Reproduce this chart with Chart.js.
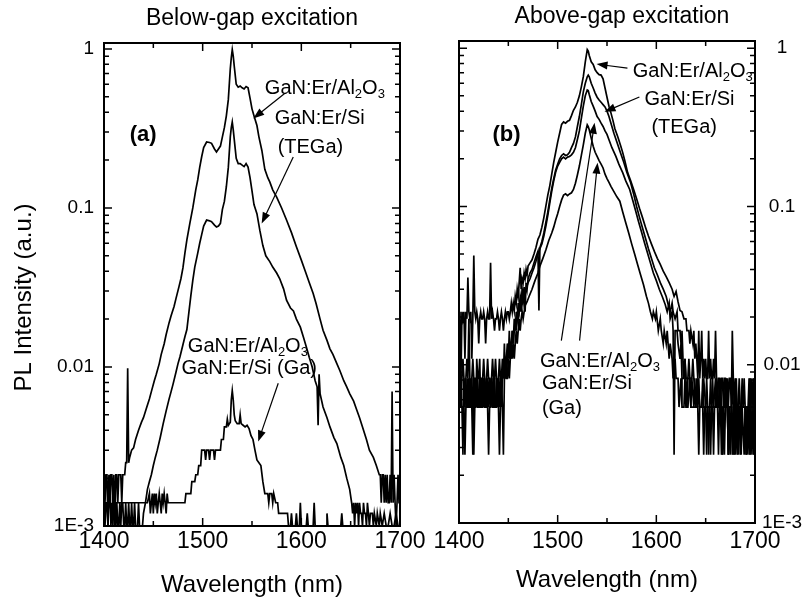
<!DOCTYPE html>
<html>
<head>
<meta charset="utf-8">
<title>PL spectra GaN:Er</title>
<script src="https://cdn.jsdelivr.net/npm/chart.js@4.4.1/dist/chart.umd.min.js"></script>
<style>
  body { margin: 0; background: #fff; }
  #wrap { position: relative; width: 809px; height: 601px; }
  canvas { position: absolute; left: 0; top: 0; }
</style>
</head>
<body>
<div id="wrap">
  <canvas id="below" width="809" height="601"></canvas>
  <canvas id="above" width="809" height="601"></canvas>
</div>
<script>
// Osi
const wlTicks = [1400, 1500, 1600, 1700];
const wlMinorTicks = [1450, 1550, 1650];
const plDecades = [0.001, 0.01, 0.1, 1];
const plDecadeLabels = ['1E-3', '0.01', '0.1', '1'];

// (a) Below-gap excitation: [valna duljina nm, PL intenzitet a.u.]
const belowAl2O3TEGa = [
  [1400,0.0021],[1401,0.0014],[1402,0.0021],[1403,0.0021],[1404,0.001],[1405,0.0021],[1406,0.0014],[1407,0.0021],
  [1408,0.0021],[1409,0.0014],[1410,0.0021],[1411,0.001],[1412,0.0021],[1413,0.0021],[1414,0.0014],[1415,0.0021],
  [1416,0.0021],[1417,0.0021],[1418,0.0014],[1419,0.0021],[1420,0.0021],[1421,0.0021],[1422,0.0025],[1423,0.0025],
  [1424,0.0098],[1425,0.0025],[1426,0.0027],[1428,0.003],[1430,0.0031],[1432,0.0035],[1435,0.004],[1438,0.0045],
  [1440,0.0048],[1443,0.0055],[1446,0.0063],[1448,0.007],[1451,0.0082],[1453,0.009],[1456,0.0105],[1458,0.012],
  [1461,0.014],[1463,0.016],[1466,0.019],[1468,0.021],[1471,0.024],[1473,0.027],[1476,0.032],[1478,0.036],
  [1480,0.042],[1482,0.052],[1484,0.063],[1487,0.08],[1490,0.1],[1493,0.13],[1495,0.15],[1497,0.18],
  [1499,0.21],[1501,0.24],[1504,0.26],[1507,0.258],[1509,0.255],[1512,0.235],[1514,0.225],[1516,0.235],
  [1518,0.245],[1520,0.28],[1522,0.32],[1524,0.38],[1526,0.48],[1528,0.75],[1529,0.88],[1530,0.99],
  [1531,0.9],[1532,0.78],[1534,0.6],[1536,0.575],[1538,0.585],[1540,0.57],[1542,0.56],[1544,0.58],
  [1546,0.57],[1548,0.49],[1550,0.42],[1552,0.38],[1555,0.33],[1557,0.28],[1560,0.23],[1563,0.175],
  [1566,0.155],[1568,0.146],[1571,0.13],[1575,0.117],[1580,0.1],[1585,0.084],[1590,0.07],[1595,0.057],
  [1600,0.047],[1604,0.04],[1608,0.034],[1612,0.029],[1615,0.025],[1619,0.02],[1622,0.017],[1626,0.0147],
  [1629,0.013],[1632,0.012],[1636,0.0105],[1639,0.0095],[1643,0.0082],[1646,0.0075],[1649,0.0068],[1653,0.0061],
  [1656,0.0054],[1659,0.0048],[1662,0.0042],[1666,0.0035],[1669,0.003],[1673,0.0027],[1676,0.0024],[1679,0.0021],
  [1680,0.0021],[1681,0.0014],[1682,0.0021],[1683,0.0021],[1684,0.0014],[1685,0.0021],[1686,0.0014],[1687,0.0021],
  [1688,0.0014],[1689,0.0014],[1690,0.0021],[1691,0.0014],[1692,0.007],[1693,0.0014],[1694,0.0021],[1695,0.0014],
  [1696,0.001],[1697,0.0014],[1698,0.0021],[1699,0.0014],[1700,0.0014]
];
const belowSiTEGa = [
  [1400,0.0014],[1401,0.001],[1402,0.0014],[1403,0.0014],[1404,0.001],[1405,0.0014],[1406,0.0021],[1407,0.001],
  [1408,0.0014],[1409,0.001],[1410,0.0014],[1411,0.0014],[1412,0.001],[1413,0.0014],[1414,0.001],[1415,0.001],
  [1416,0.0014],[1417,0.001],[1418,0.0014],[1419,0.0014],[1420,0.001],[1421,0.001],[1422,0.0014],[1423,0.001],
  [1424,0.001],[1425,0.0014],[1426,0.001],[1427,0.001],[1428,0.0014],[1429,0.001],[1430,0.001],[1431,0.0014],
  [1432,0.001],[1433,0.001],[1434,0.001],[1435,0.0014],[1436,0.001],[1437,0.001],[1438,0.001],[1439,0.001],
  [1440,0.0012],[1442,0.0014],[1444,0.0017],[1446,0.0019],[1448,0.0021],[1450,0.0024],[1452,0.0027],[1454,0.003],
  [1457,0.0036],[1460,0.0044],[1463,0.0053],[1466,0.0063],[1468,0.007],[1470,0.0078],[1473,0.0093],[1475,0.0105],
  [1477,0.0116],[1480,0.0138],[1482,0.0155],[1484,0.0172],[1486,0.022],[1488,0.028],[1490,0.035],[1492,0.0425],
  [1495,0.052],[1497,0.06],[1499,0.068],[1501,0.077],[1504,0.084],[1507,0.083],[1509,0.082],[1512,0.078],
  [1514,0.076],[1516,0.077],[1518,0.08],[1520,0.098],[1522,0.11],[1524,0.136],[1526,0.18],[1528,0.28],
  [1529,0.32],[1530,0.347],[1531,0.31],[1532,0.27],[1534,0.205],[1536,0.19],[1538,0.19],[1540,0.186],
  [1542,0.182],[1544,0.19],[1546,0.181],[1548,0.155],[1550,0.128],[1552,0.105],[1555,0.092],[1558,0.072],
  [1561,0.058],[1564,0.05],[1568,0.046],[1571,0.0425],[1575,0.039],[1578,0.036],[1582,0.031],[1585,0.0263],
  [1589,0.0235],[1592,0.0225],[1595,0.02],[1599,0.0178],[1602,0.0155],[1605,0.0134],[1608,0.0115],[1611,0.01],
  [1614,0.0082],[1616,0.0075],[1617,0.0043],[1618,0.009],[1619,0.0068],[1622,0.0056],[1626,0.0048],[1629,0.0042],
  [1633,0.0036],[1636,0.0033],[1640,0.0027],[1643,0.0024],[1646,0.002],[1649,0.0017],[1651,0.0014],[1652,0.0012],
  [1653,0.0014],[1654,0.001],[1655,0.0014],[1656,0.0012],[1657,0.0014],[1658,0.001],[1659,0.0014],[1660,0.0012],
  [1661,0.0012],[1662,0.001],[1663,0.0014],[1664,0.0012],[1665,0.0012],[1666,0.001],[1667,0.0014],[1668,0.0012],
  [1669,0.001],[1670,0.0012],[1672,0.0012],[1673,0.001],[1674,0.0012],[1676,0.001],[1677,0.0012],[1679,0.001],
  [1680,0.0012],[1682,0.001],[1684,0.0012],[1686,0.001],[1688,0.001],[1690,0.0012],[1692,0.001],[1694,0.001],
  [1696,0.0012],[1698,0.001],[1700,0.001]
];
const belowGa = [
  [1400,0.0014],[1405,0.0014],[1408,0.0012],[1409,0.0014],[1415,0.0014],[1420,0.0014],[1425,0.0014],[1430,0.0014],
  [1435,0.0014],[1440,0.0014],[1444,0.0014],[1446,0.0016],[1447,0.0012],[1448,0.0014],[1449,0.0016],[1450,0.0012],
  [1451,0.0016],[1452,0.0014],[1453,0.0016],[1454,0.0012],[1455,0.0014],[1456,0.0016],[1457,0.0014],[1458,0.0012],
  [1459,0.0016],[1460,0.0014],[1461,0.0016],[1462,0.0014],[1463,0.0012],[1464,0.0016],[1465,0.0014],[1470,0.0014],
  [1475,0.0014],[1482,0.0014],[1483,0.0016],[1488,0.0016],[1489,0.0019],[1492,0.0019],[1493,0.0021],[1495,0.0021],
  [1496,0.0024],[1498,0.0024],[1499,0.003],[1502,0.003],[1503,0.0026],[1504,0.003],[1506,0.003],[1507,0.0026],
  [1508,0.003],[1511,0.003],[1512,0.0026],[1513,0.003],[1518,0.003],[1519,0.0035],[1521,0.0035],[1522,0.0042],
  [1524,0.0042],[1525,0.0047],[1526,0.0043],[1528,0.0045],[1529,0.0062],[1530,0.0071],[1531,0.0062],[1532,0.005],
  [1533,0.0046],[1535,0.0044],[1537,0.0044],[1538,0.005],[1539,0.0044],[1541,0.0043],[1543,0.0042],[1545,0.0043],
  [1547,0.0041],[1549,0.0037],[1551,0.0035],[1553,0.003],[1555,0.0026],[1557,0.0025],[1559,0.0024],[1561,0.0019],
  [1563,0.0016],[1566,0.0016],[1567,0.0014],[1568,0.0016],[1570,0.0016],[1571,0.0014],[1572,0.0016],[1574,0.0014],
  [1576,0.0014],[1577,0.0012],[1584,0.0012],[1586,0.0012],[1587,0.001],[1589,0.001],[1590,0.0012],[1591,0.001],
  [1594,0.001],[1595,0.0012],[1596,0.001],[1598,0.001],[1599,0.0014],[1600,0.001],[1605,0.001],[1606,0.0012],
  [1607,0.001],[1612,0.001],[1613,0.0014],[1614,0.001],[1625,0.001],[1626,0.0012],[1627,0.001],[1640,0.001],
  [1641,0.0012],[1642,0.001],[1700,0.001]
];

// (b) Above-gap excitation
const aboveAl2O3TEGa = [
  [1400,0.0195],[1401,0.0216],[1402,0.0082],[1403,0.0216],[1404,0.0195],[1405,0.0216],[1406,0.0109],[1407,0.0216],
  [1408,0.0195],[1409,0.0356],[1410,0.0216],[1411,0.0195],[1412,0.0216],[1413,0.0109],[1414,0.0195],[1415,0.049],
  [1416,0.0216],[1417,0.0195],[1418,0.0216],[1419,0.0195],[1420,0.0136],[1421,0.0195],[1422,0.0216],[1423,0.0195],
  [1424,0.0195],[1425,0.0216],[1426,0.0195],[1427,0.0136],[1428,0.0195],[1429,0.0216],[1430,0.0195],[1431,0.0195],
  [1432,0.044],[1433,0.0195],[1434,0.0216],[1435,0.0195],[1436,0.0164],[1437,0.0195],[1438,0.0195],[1439,0.0216],
  [1440,0.0195],[1441,0.0164],[1442,0.0195],[1443,0.0216],[1444,0.0195],[1445,0.0164],[1446,0.0195],[1447,0.0216],
  [1448,0.0195],[1449,0.0216],[1450,0.0216],[1451,0.0195],[1452,0.0216],[1453,0.0245],[1454,0.0216],[1455,0.0245],
  [1456,0.022],[1457,0.027],[1458,0.0245],[1459,0.03],[1460,0.027],[1461,0.033],[1462,0.041],[1463,0.03],
  [1464,0.035],[1465,0.033],[1466,0.038],[1467,0.035],[1468,0.04],[1469,0.037],[1470,0.042],[1472,0.044],
  [1474,0.046],[1476,0.05],[1478,0.055],[1480,0.062],[1482,0.066],[1484,0.074],[1486,0.085],[1488,0.1],
  [1490,0.118],[1492,0.135],[1494,0.16],[1496,0.19],[1498,0.22],[1500,0.255],[1502,0.29],[1504,0.33],
  [1506,0.342],[1508,0.336],[1510,0.345],[1512,0.35],[1514,0.375],[1516,0.405],[1518,0.425],[1520,0.455],
  [1522,0.5],[1524,0.57],[1526,0.66],[1528,0.82],[1530,0.98],[1531,0.96],[1532,0.9],[1534,0.82],
  [1536,0.79],[1538,0.73],[1540,0.7],[1542,0.68],[1544,0.676],[1546,0.64],[1548,0.56],[1550,0.49],
  [1552,0.43],[1554,0.39],[1556,0.35],[1558,0.31],[1561,0.275],[1564,0.24],[1566,0.218],[1568,0.195],
  [1571,0.163],[1574,0.145],[1577,0.128],[1580,0.112],[1583,0.097],[1586,0.085],[1589,0.074],[1592,0.065],
  [1595,0.058],[1598,0.052],[1601,0.047],[1604,0.043],[1607,0.039],[1610,0.036],[1613,0.033],[1616,0.03],
  [1618,0.027],[1620,0.029],[1622,0.025],[1624,0.022],[1626,0.0216],[1628,0.0195],[1630,0.0195],[1631,0.0164],
  [1633,0.0164],[1634,0.0136],[1635,0.0164],[1637,0.0136],[1638,0.0164],[1639,0.0109],[1640,0.0136],[1641,0.0109],
  [1642,0.0082],[1643,0.0164],[1644,0.0082],[1645,0.0109],[1646,0.0164],[1647,0.0082],[1648,0.0109],[1649,0.0082],
  [1650,0.0109],[1651,0.0082],[1652,0.0082],[1653,0.0164],[1654,0.0082],[1655,0.0109],[1656,0.0082],[1657,0.0082],
  [1658,0.0109],[1659,0.0082],[1660,0.0164],[1661,0.0082],[1662,0.0054],[1663,0.0082],[1664,0.0082],[1665,0.0054],
  [1666,0.0082],[1667,0.0082],[1668,0.0054],[1669,0.0082],[1670,0.0082],[1671,0.0054],[1672,0.0082],[1673,0.0054],
  [1674,0.0082],[1675,0.0082],[1676,0.0054],[1677,0.0164],[1678,0.0082],[1679,0.0054],[1680,0.0082],[1681,0.0054],
  [1683,0.0054],[1684,0.0082],[1685,0.0054],[1688,0.0054],[1689,0.0082],[1690,0.0054],[1693,0.0054],[1694,0.0082],
  [1695,0.0054],[1696,0.0082],[1697,0.0054],[1698,0.0082],[1699,0.0054],[1700,0.0082]
];
const aboveSiTEGa = [
  [1400,0.0082],[1401,0.0109],[1402,0.0054],[1403,0.0082],[1404,0.0109],[1405,0.0082],[1406,0.0054],[1407,0.0082],
  [1408,0.0109],[1409,0.0082],[1410,0.0195],[1411,0.0082],[1412,0.0054],[1413,0.0082],[1414,0.0109],[1415,0.0082],
  [1416,0.0082],[1417,0.0054],[1418,0.0109],[1419,0.0082],[1420,0.0082],[1421,0.0109],[1422,0.0054],[1423,0.0082],
  [1424,0.0082],[1425,0.0109],[1426,0.0082],[1427,0.0054],[1428,0.0082],[1429,0.0109],[1430,0.0082],[1431,0.0082],
  [1432,0.0054],[1433,0.0082],[1434,0.0109],[1435,0.0082],[1436,0.0082],[1437,0.0109],[1438,0.0082],[1439,0.0054],
  [1440,0.0082],[1441,0.0109],[1442,0.0082],[1443,0.0082],[1444,0.0109],[1445,0.0082],[1446,0.0136],[1447,0.0082],
  [1448,0.0109],[1449,0.0136],[1450,0.0109],[1451,0.0164],[1452,0.0109],[1453,0.0136],[1454,0.0164],[1455,0.0136],
  [1456,0.0195],[1457,0.0164],[1458,0.0216],[1459,0.0195],[1460,0.0245],[1461,0.022],[1462,0.027],[1463,0.0245],
  [1464,0.03],[1465,0.027],[1466,0.031],[1467,0.0216],[1468,0.033],[1469,0.03],[1470,0.035],[1472,0.038],
  [1474,0.04],[1476,0.044],[1478,0.048],[1480,0.052],[1481,0.022],[1482,0.055],[1484,0.06],[1486,0.068],
  [1488,0.079],[1490,0.092],[1492,0.11],[1494,0.13],[1496,0.15],[1498,0.17],[1500,0.185],[1502,0.2],
  [1504,0.21],[1506,0.215],[1508,0.21],[1510,0.212],[1512,0.22],[1514,0.235],[1516,0.25],[1518,0.275],
  [1520,0.32],[1522,0.37],[1524,0.44],[1526,0.53],[1528,0.6],[1530,0.66],[1531,0.676],[1532,0.66],
  [1534,0.6],[1536,0.56],[1538,0.52],[1540,0.49],[1542,0.47],[1544,0.455],[1546,0.44],[1548,0.425],
  [1550,0.4],[1552,0.37],[1554,0.336],[1557,0.29],[1560,0.255],[1564,0.215],[1567,0.19],[1570,0.165],
  [1574,0.141],[1577,0.12],[1580,0.1],[1583,0.085],[1586,0.073],[1589,0.063],[1592,0.054],[1595,0.047],
  [1598,0.041],[1601,0.037],[1604,0.033],[1607,0.03],[1610,0.027],[1612,0.024],[1614,0.0216],[1616,0.0245],
  [1617,0.0216],[1619,0.0195],[1621,0.0216],[1622,0.0164],[1624,0.0164],[1625,0.0136],[1626,0.0164],[1627,0.0109],
  [1628,0.0082],[1629,0.0109],[1630,0.0082],[1632,0.0082],[1633,0.0109],[1634,0.0082],[1636,0.0082],[1637,0.0109],
  [1638,0.0082],[1640,0.0054],[1641,0.0082],[1642,0.0054],[1643,0.0082],[1644,0.0054],[1646,0.0054],[1647,0.0082],
  [1648,0.0054],[1650,0.0054],[1651,0.0082],[1652,0.0054],[1654,0.0054],[1655,0.0027],[1656,0.0054],[1657,0.0082],
  [1658,0.0054],[1660,0.0054],[1661,0.0082],[1662,0.0054],[1664,0.0054],[1665,0.0082],[1666,0.0054],[1667,0.0027],
  [1668,0.0054],[1670,0.0054],[1671,0.0082],[1672,0.0054],[1673,0.0027],[1674,0.0054],[1676,0.0054],[1677,0.0082],
  [1678,0.0054],[1679,0.0027],[1680,0.0054],[1682,0.0054],[1683,0.0027],[1684,0.0054],[1686,0.0054],[1687,0.0082],
  [1688,0.0054],[1690,0.0054],[1691,0.0027],[1692,0.0054],[1694,0.0054],[1695,0.0082],[1696,0.0054],[1698,0.0054],
  [1699,0.0082],[1700,0.0054]
];
const aboveAl2O3Ga = [
  [1400,0.0054],[1401,0.0082],[1402,0.0054],[1403,0.0054],[1404,0.0027],[1405,0.0082],[1406,0.0054],[1407,0.0082],
  [1408,0.0054],[1409,0.0054],[1410,0.0082],[1411,0.0054],[1412,0.0082],[1413,0.0054],[1414,0.0027],[1415,0.0082],
  [1416,0.0054],[1417,0.0082],[1418,0.0054],[1419,0.0082],[1420,0.0054],[1421,0.0054],[1422,0.0082],[1423,0.0054],
  [1424,0.0082],[1425,0.0054],[1426,0.0082],[1427,0.0054],[1428,0.0054],[1429,0.0082],[1430,0.0054],[1431,0.0082],
  [1432,0.0054],[1433,0.0082],[1434,0.0054],[1435,0.0082],[1436,0.0054],[1437,0.0054],[1438,0.0082],[1439,0.0054],
  [1440,0.0082],[1441,0.0054],[1442,0.0082],[1443,0.0054],[1444,0.0082],[1445,0.0109],[1446,0.0082],[1447,0.0109],
  [1448,0.0082],[1449,0.0109],[1450,0.0136],[1451,0.0109],[1452,0.0136],[1453,0.0109],[1454,0.0164],[1455,0.0136],
  [1456,0.0164],[1457,0.0195],[1458,0.0164],[1459,0.0216],[1460,0.0195],[1461,0.0216],[1462,0.0245],[1463,0.0216],
  [1464,0.027],[1465,0.0245],[1466,0.028],[1468,0.03],[1470,0.033],[1472,0.035],[1474,0.038],[1476,0.041],
  [1478,0.045],[1480,0.05],[1482,0.054],[1484,0.058],[1486,0.065],[1488,0.075],[1490,0.088],[1492,0.105],
  [1494,0.125],[1496,0.145],[1498,0.165],[1500,0.18],[1502,0.19],[1504,0.2],[1506,0.205],[1508,0.2],
  [1510,0.205],[1512,0.207],[1514,0.212],[1516,0.22],[1518,0.235],[1520,0.265],[1522,0.3],[1524,0.36],
  [1526,0.43],[1528,0.5],[1530,0.544],[1531,0.54],[1532,0.51],[1534,0.46],[1536,0.43],[1538,0.4],
  [1540,0.37],[1542,0.355],[1544,0.336],[1546,0.32],[1548,0.3],[1550,0.285],[1552,0.264],[1555,0.235],
  [1559,0.207],[1562,0.185],[1566,0.163],[1569,0.145],[1573,0.128],[1576,0.11],[1579,0.094],[1582,0.08],
  [1585,0.069],[1588,0.059],[1591,0.051],[1594,0.044],[1597,0.038],[1600,0.034],[1603,0.03],[1606,0.027],
  [1609,0.024],[1611,0.0216],[1613,0.0245],[1614,0.0195],[1616,0.0216],[1617,0.0164],[1618,0.0027],[1619,0.0164],
  [1621,0.0164],[1622,0.0136],[1624,0.0109],[1625,0.0136],[1626,0.0082],[1628,0.0082],[1629,0.0109],[1630,0.0082],
  [1631,0.0054],[1632,0.0082],[1634,0.0082],[1635,0.0054],[1636,0.0082],[1638,0.0054],[1639,0.0082],[1640,0.0054],
  [1642,0.0082],[1644,0.0054],[1646,0.0054],[1648,0.0082],[1650,0.0054],[1651,0.0027],[1652,0.0054],[1654,0.0054],
  [1655,0.0082],[1656,0.0054],[1658,0.0054],[1660,0.0082],[1661,0.0054],[1663,0.0054],[1664,0.0082],[1665,0.0054],
  [1666,0.0027],[1667,0.0054],[1669,0.0054],[1670,0.0082],[1671,0.0054],[1672,0.0054],[1673,0.0027],[1674,0.0054],
  [1676,0.0054],[1677,0.0027],[1678,0.0054],[1680,0.0054],[1681,0.0082],[1682,0.0054],[1684,0.0054],[1685,0.0027],
  [1686,0.0054],[1688,0.0054],[1690,0.0054],[1691,0.0027],[1692,0.0054],[1694,0.0054],[1695,0.0027],[1696,0.0054],
  [1698,0.0054],[1699,0.0027],[1700,0.0054]
];
const aboveSiGa = [
  [1400,0.0054],[1401,0.0054],[1402,0.0082],[1403,0.0054],[1404,0.0054],[1405,0.0054],[1406,0.0027],[1407,0.0054],
  [1408,0.0054],[1409,0.0082],[1410,0.0054],[1411,0.0054],[1412,0.0054],[1413,0.0082],[1414,0.0054],[1415,0.0027],
  [1416,0.0054],[1417,0.0054],[1418,0.0082],[1419,0.0054],[1420,0.0054],[1421,0.0082],[1422,0.0054],[1423,0.0054],
  [1424,0.0054],[1425,0.0082],[1426,0.0054],[1427,0.0054],[1428,0.0082],[1429,0.0054],[1430,0.0027],[1431,0.0054],
  [1432,0.0054],[1433,0.0082],[1434,0.0054],[1435,0.0054],[1436,0.0082],[1437,0.0054],[1438,0.0054],[1439,0.0082],
  [1440,0.0054],[1441,0.0027],[1442,0.0054],[1443,0.0082],[1444,0.0054],[1445,0.0027],[1446,0.0082],[1447,0.0109],
  [1448,0.0082],[1449,0.0082],[1450,0.0109],[1451,0.0082],[1452,0.0109],[1453,0.0136],[1454,0.0109],[1455,0.0136],
  [1456,0.0109],[1457,0.0136],[1458,0.0164],[1459,0.0136],[1460,0.0164],[1461,0.0195],[1462,0.0164],[1463,0.0195],
  [1464,0.0216],[1465,0.0195],[1466,0.0216],[1467,0.0236],[1469,0.025],[1471,0.027],[1474,0.03],[1477,0.034],
  [1480,0.038],[1482,0.042],[1485,0.047],[1488,0.053],[1491,0.061],[1494,0.068],[1496,0.074],[1498,0.082],
  [1500,0.09],[1502,0.1],[1504,0.11],[1506,0.118],[1508,0.12],[1510,0.117],[1512,0.12],[1514,0.122],
  [1516,0.128],[1518,0.14],[1520,0.158],[1522,0.18],[1524,0.21],[1526,0.245],[1528,0.29],[1530,0.328],
  [1531,0.32],[1532,0.305],[1534,0.27],[1536,0.24],[1538,0.22],[1540,0.207],[1542,0.195],[1544,0.185],
  [1546,0.175],[1548,0.16],[1550,0.15],[1552,0.142],[1554,0.134],[1557,0.124],[1560,0.115],[1563,0.108],
  [1566,0.092],[1569,0.079],[1572,0.068],[1575,0.058],[1578,0.05],[1581,0.043],[1584,0.037],[1587,0.032],
  [1590,0.027],[1592,0.0245],[1594,0.0216],[1596,0.0195],[1597,0.0216],[1599,0.0195],[1600,0.0216],[1602,0.0164],
  [1604,0.0195],[1605,0.0164],[1607,0.0136],[1608,0.0164],[1610,0.0136],[1611,0.0164],[1613,0.0109],[1614,0.0136],
  [1616,0.0109],[1617,0.0082],[1619,0.0109],[1620,0.0082],[1622,0.0082],[1623,0.0054],[1625,0.0082],[1626,0.0054],
  [1628,0.0054],[1629,0.0082],[1630,0.0054],[1632,0.0054],[1634,0.0082],[1635,0.0054],[1637,0.0054],[1640,0.0054],
  [1642,0.0054],[1643,0.0027],[1644,0.0054],[1647,0.0054],[1648,0.0027],[1649,0.0054],[1652,0.0054],[1653,0.0027],
  [1654,0.0054],[1657,0.0054],[1658,0.0027],[1659,0.0054],[1662,0.0054],[1663,0.0027],[1664,0.0054],[1666,0.0054],
  [1667,0.0027],[1668,0.0054],[1669,0.0027],[1670,0.0054],[1672,0.0054],[1673,0.0027],[1674,0.0054],[1675,0.0027],
  [1676,0.0054],[1678,0.0027],[1679,0.0054],[1680,0.0027],[1681,0.0054],[1682,0.0027],[1683,0.0054],[1685,0.0054],
  [1686,0.0027],[1687,0.0054],[1689,0.0027],[1690,0.0054],[1692,0.0027],[1693,0.0054],[1694,0.0027],[1695,0.0054],
  [1696,0.0027],[1697,0.0054],[1698,0.0027],[1699,0.0054],[1700,0.0027]
];

// Natpisi i strelice (u koordinatama podataka)
const notesBelow = [
  { text: '(a)', x: 1426, y: 0.286, bold: true },
  { text: 'GaN:Er/Al_2O_3', x: 1563, y: 0.566 },
  { text: 'GaN:Er/Si', x: 1573, y: 0.367 },
  { text: '(TEGa)', x: 1576, y: 0.241 },
  { text: 'GaN:Er/Al_2O_3', x: 1485, y: 0.0134 },
  { text: 'GaN:Er/Si (Ga)', x: 1478.5, y: 0.0098 }
];
const arrowsBelow = [
  [1583.4, 0.526, 1551.3, 0.365],
  [1591.8, 0.209, 1559.8, 0.08],
  [1576.6, 0.0079, 1556.3, 0.0034]
];
const notesAbove = [
  { text: '(b)', x: 1434, y: 0.284, bold: true },
  { text: 'GaN:Er/Al_2O_3', x: 1576, y: 0.71 },
  { text: 'GaN:Er/Si', x: 1588, y: 0.471 },
  { text: '(TEGa)', x: 1595, y: 0.314 },
  { text: 'GaN:Er/Al_2O_3', x: 1482, y: 0.0105 },
  { text: 'GaN:Er/Si', x: 1484, y: 0.0076 },
  { text: '(Ga)', x: 1484, y: 0.0053 }
];
const arrowsAbove = [
  [1570.7, 0.748, 1539.4, 0.793],
  [1582.8, 0.492, 1547.5, 0.396],
  [1503.7, 0.0142, 1537.4, 0.3375],
  [1522.2, 0.0142, 1540.4, 0.189]
];

const FONT = '"Liberation Sans", Arial, Helvetica, sans-serif';
Chart.defaults.font.family = FONT;
Chart.defaults.color = '#000';

// Okvir i unutarnje crtice na sve četiri strane
const frameTicks = {
  id: 'frameTicks',
  afterDatasetsDraw(chart) {
    const { ctx, chartArea: a } = chart;
    const xs = chart.scales.x, ys = chart.scales.y;
    ctx.save();
    ctx.strokeStyle = '#000';
    ctx.lineWidth = 2;
    ctx.strokeRect(a.left, a.top, a.right - a.left, a.bottom - a.top);
    ctx.lineWidth = 1.5;
    ctx.beginPath();
    const tickX = (v, len) => {
      const px = xs.getPixelForValue(v);
      ctx.moveTo(px, a.bottom); ctx.lineTo(px, a.bottom - len);
      ctx.moveTo(px, a.top); ctx.lineTo(px, a.top + len);
    };
    const tickY = (v, len) => {
      const py = ys.getPixelForValue(v);
      ctx.moveTo(a.left, py); ctx.lineTo(a.left + len, py);
      ctx.moveTo(a.right, py); ctx.lineTo(a.right - len, py);
    };
    wlTicks.forEach(v => tickX(v, 8));
    wlMinorTicks.forEach(v => tickX(v, 5));
    plDecades.forEach(d => {
      tickY(d, 8);
      if (d < 1) for (let k = 2; k <= 9; k++) tickY(d * k, 5);
    });
    ctx.stroke();
    ctx.restore();
  }
};

// Tekst s indeksima: "_2" znači indeks 2
function drawNote(ctx, text, px, py, bold) {
  const big = (bold ? 'bold 22px ' : '20px ') + FONT;
  const small = '13px ' + FONT;
  ctx.textBaseline = 'middle';
  ctx.textAlign = 'left';
  let cx = px;
  text.split(/(_\d)/).forEach(part => {
    if (!part) return;
    const sub = part[0] === '_';
    const s = sub ? part.slice(1) : part;
    ctx.font = sub ? small : big;
    ctx.fillText(s, cx, sub ? py + 6 : py);
    cx += ctx.measureText(s).width;
  });
}

function drawArrow(ctx, x1, y1, x2, y2) {
  const ang = Math.atan2(y2 - y1, x2 - x1);
  const c = Math.cos(ang), s = Math.sin(ang);
  const len = 11, half = 4;
  ctx.lineWidth = 1.2;
  ctx.beginPath();
  ctx.moveTo(x1, y1);
  ctx.lineTo(x2 - c * len * 0.8, y2 - s * len * 0.8);
  ctx.stroke();
  ctx.beginPath();
  ctx.moveTo(x2, y2);
  ctx.lineTo(x2 - c * len + s * half, y2 - s * len - c * half);
  ctx.lineTo(x2 - c * len - s * half, y2 - s * len + c * half);
  ctx.closePath();
  ctx.fill();
}

const notes = {
  id: 'notes',
  afterDraw(chart, args, opts) {
    const { ctx, chartArea: a } = chart;
    const xs = chart.scales.x, ys = chart.scales.y;
    ctx.save();
    ctx.fillStyle = '#000';
    ctx.strokeStyle = '#000';
    (opts.texts || []).forEach(t => drawNote(ctx, t.text, xs.getPixelForValue(t.x), ys.getPixelForValue(t.y), t.bold));
    (opts.arrows || []).forEach(([x1, y1, x2, y2]) =>
      drawArrow(ctx, xs.getPixelForValue(x1), ys.getPixelForValue(y1), xs.getPixelForValue(x2), ys.getPixelForValue(y2)));
    if (opts.yTitle) {
      ctx.translate(a.left - 80, (a.top + a.bottom) / 2 + 13);
      ctx.rotate(-Math.PI / 2);
      ctx.font = '24px ' + FONT;
      ctx.textAlign = 'center';
      ctx.textBaseline = 'middle';
      ctx.fillText(opts.yTitle, 0, 0);
    }
    ctx.restore();
  }
};

function toDatasets(list) {
  return list.map(([label, pts]) => ({
    label,
    data: pts.map(([x, y]) => ({ x, y }))
  }));
}

const decadeTicks = s => { s.ticks = plDecades.map(v => ({ value: v })); };
const decadeLabel = v => {
  const i = plDecades.findIndex(d => Math.abs(d - v) < d * 1e-6);
  return i < 0 ? '' : plDecadeLabels[i];
};
const wlAxis = (height, tickPad, titlePad) => ({
  type: 'linear', min: 1400, max: 1700,
  afterBuildTicks: s => { s.ticks = wlTicks.map(v => ({ value: v })); },
  afterFit: s => { s.height = height; },
  grid: { display: false, drawTicks: false },
  border: { display: false },
  ticks: { font: { size: 23 }, padding: tickPad, autoSkip: false, maxRotation: 0, callback: v => String(v) },
  title: { display: true, text: 'Wavelength (nm)', font: { size: 24 }, padding: { top: 0, bottom: titlePad } }
});
const common = {
  responsive: false,
  animation: false,
  devicePixelRatio: 1,
  elements: {
    point: { radius: 0 },
    line: { borderColor: '#000', borderWidth: 1.7, tension: 0, fill: false }
  }
};

new Chart(document.getElementById('below'), {
  type: 'line',
  data: {
    datasets: toDatasets([
      ['GaN:Er/Al2O3 (TEGa)', belowAl2O3TEGa],
      ['GaN:Er/Si (TEGa)', belowSiTEGa],
      ['GaN:Er/Al2O3, GaN:Er/Si (Ga)', belowGa]
    ])
  },
  options: {
    ...common,
    layout: { padding: { left: 0, right: 409, top: 0, bottom: 0 } },
    plugins: {
      legend: { display: false },
      tooltip: { enabled: false },
      title: {
        display: true, text: 'Below-gap excitation', fullSize: false,
        font: { size: 23, weight: 'normal' }, padding: { top: 4.7, bottom: 10.7 }
      },
      notes: { texts: notesBelow, arrows: arrowsBelow, yTitle: 'PL Intensity (a.u.)' }
    },
    scales: {
      x: wlAxis(75, 2, 1),
      y: {
        type: 'logarithmic', min: 0.001, max: 1.09,
        afterBuildTicks: decadeTicks,
        afterFit: s => { s.width = 104; },
        grid: { display: false, drawTicks: false },
        border: { display: false },
        ticks: { font: { size: 19 }, padding: 10, autoSkip: false, callback: decadeLabel }
      }
    }
  },
  plugins: [frameTicks, notes]
});

new Chart(document.getElementById('above'), {
  type: 'line',
  data: {
    datasets: toDatasets([
      ['GaN:Er/Al2O3 (TEGa)', aboveAl2O3TEGa],
      ['GaN:Er/Si (TEGa)', aboveSiTEGa],
      ['GaN:Er/Al2O3 (Ga)', aboveAl2O3Ga],
      ['GaN:Er/Si (Ga)', aboveSiGa]
    ])
  },
  options: {
    ...common,
    layout: { padding: { left: 435, right: 0, top: 0, bottom: 0 } },
    plugins: {
      legend: { display: false },
      tooltip: { enabled: false },
      title: {
        display: true, text: 'Above-gap excitation',
        font: { size: 23, weight: 'normal' }, padding: { top: 3.2, bottom: 10.2 }
      },
      notes: { texts: notesAbove, arrows: arrowsAbove }
    },
    scales: {
      x: wlAxis(78, 5, 6.5),
      yPad: {
        axis: 'y', type: 'logarithmic', position: 'left', min: 0.001, max: 1.11,
        afterFit: s => { s.width = 24; },
        grid: { display: false, drawTicks: false },
        border: { display: false },
        ticks: { display: false }
      },
      y: {
        type: 'logarithmic', position: 'right', min: 0.001, max: 1.11,
        afterBuildTicks: decadeTicks,
        afterFit: s => { s.width = 54; },
        grid: { display: false, drawTicks: false },
        border: { display: false },
        ticks: { font: { size: 19 }, padding: 7, crossAlign: 'center', autoSkip: false, callback: decadeLabel }
      }
    }
  },
  plugins: [frameTicks, notes]
});
</script>
</body>
</html>
